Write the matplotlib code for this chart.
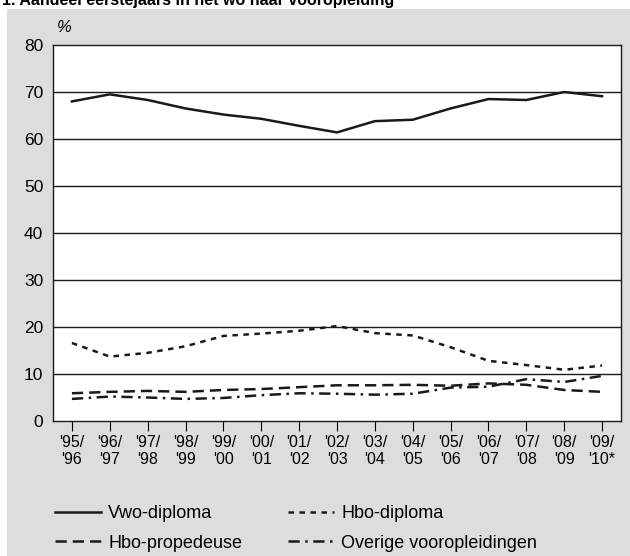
import numpy as np
import matplotlib.pyplot as plt
from matplotlib.patches import Rectangle

plt.rcParams['font.family'] = ['Liberation Sans', 'DejaVu Sans']

# --- data ---
years = ["'95/\n'96", "'96/\n'97", "'97/\n'98", "'98/\n'99", "'99/\n'00",
         "'00/\n'01", "'01/\n'02", "'02/\n'03", "'03/\n'04", "'04/\n'05",
         "'05/\n'06", "'06/\n'07", "'07/\n'08", "'08/\n'09", "'09/\n'10*"]
vwo = [68.0, 69.5, 68.3, 66.5, 65.2, 64.3, 62.8, 61.4, 63.8, 64.1, 66.5, 68.5, 68.3, 70.0, 69.1]
hbo_dipl = [16.6, 13.7, 14.5, 15.9, 18.1, 18.6, 19.2, 20.2, 18.7, 18.2, 15.7, 12.8, 11.9, 10.9, 11.8]
hbo_prop = [5.9, 6.2, 6.4, 6.2, 6.6, 6.8, 7.2, 7.6, 7.6, 7.7, 7.5, 8.0, 7.7, 6.6, 6.2]
overig = [4.7, 5.2, 5.0, 4.7, 4.9, 5.5, 5.9, 5.8, 5.6, 5.8, 7.1, 7.3, 8.9, 8.3, 9.6]

W, H = 630, 556
fig = plt.figure(figsize=(W / 100, H / 100), dpi=100)
fig.patch.set_facecolor('white')

# grey panel
fig.patches.append(Rectangle((7 / W, 0), 1 - 7 / W, 1 - 9 / H, transform=fig.transFigure,
                             facecolor='#dcdddf', edgecolor='none', zorder=-10))
# title, cut off at the top as in the source
fig.text(2 / W, 1 - 5 / H, '1. Aandeel eerstejaars in het wo naar vooropleiding',
         fontsize=11.5, fontweight='bold', va='baseline', ha='left')

ax = fig.add_axes([53 / W, (H - 421) / H, (621 - 53) / W, (421 - 45) / H])
ax.set_facecolor('white')

x = np.arange(len(years))
lw = 1.8
c = '#1a1a1a'
l1, = ax.plot(x, vwo, color=c, lw=lw, label='Vwo-diploma')
l2, = ax.plot(x, hbo_dipl, color=c, lw=lw, dashes=(2.2, 2.2), label='Hbo-diploma')
l3, = ax.plot(x, hbo_prop, color=c, lw=lw, dashes=(4.5, 2.4), label='Hbo-propedeuse')
l4, = ax.plot(x, overig, color=c, lw=lw, dashes=(4.5, 2.2, 1, 2.2),
              label='Overige vooropleidingen')

ax.set_xlim(-0.5, 14.5)
ax.set_ylim(0, 80)
ax.set_yticks(range(0, 81, 10))
ax.set_xticks(x)
ax.set_xticklabels(years)
for yv in range(10, 80, 10):
    ax.axhline(yv, color=c, lw=1.0, zorder=1)
for s in ax.spines.values():
    s.set_color(c)
    s.set_linewidth(1.0)
ax.tick_params(axis='y', length=0, pad=7, labelsize=12.5)
ax.tick_params(axis='x', length=7, direction='out', pad=3, labelsize=11.5)
ax.text(4 / 568, 1 + 10 / 376, '%', transform=ax.transAxes, fontsize=12,
        style='italic', ha='left', va='bottom')

leg_kw = dict(frameon=False, fontsize=13, loc='upper left', borderpad=0,
              borderaxespad=0, handlelength=2.55, handletextpad=0.4, labelspacing=0.7)
leg1 = fig.legend(handles=[l1, l3], bbox_to_anchor=(55 / W, 1 - 505 / H), **leg_kw)
leg2 = fig.legend(handles=[l2, l4], bbox_to_anchor=(288 / W, 1 - 505 / H), **leg_kw)

fig.savefig('out.png', dpi=100)
